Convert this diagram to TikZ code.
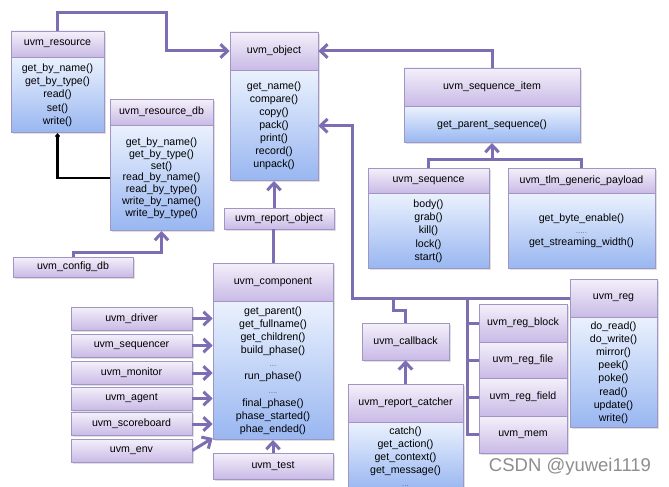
\documentclass[tikz,border=0pt]{standalone}
\usepackage{fontspec}
\setmainfont{Liberation Sans}
\usetikzlibrary{arrows.meta}
\usetikzlibrary{positioning}
\usetikzlibrary{shadows}
\definecolor{boxline}{HTML}{A195C6}
\definecolor{hdtop}{HTML}{F4F0FA}
\definecolor{hdbot}{HTML}{C9BAE6}
\definecolor{bdtop}{HTML}{EAF1FD}
\definecolor{bdbot}{HTML}{98B6F1}
\definecolor{linkcol}{HTML}{7D6DB3}
\definecolor{dotgray}{HTML}{707070}
\definecolor{wmgray}{HTML}{8E8E8E}
\newcommand{\clsfont}{\fontsize{10.6}{13.1}\selectfont}
\newcommand{\more}[1]{\textcolor{dotgray}{\footnotesize #1}}

\tikzset{
  cls/.style={draw=boxline, line width=0.7pt, inner sep=1pt, align=center, font=\clsfont,
    drop shadow={shadow xshift=1.6pt, shadow yshift=-1.6pt, opacity=0.25}},
  hd/.style={cls, top color=hdtop, bottom color=hdbot},
  bd/.style={cls, top color=bdtop, bottom color=bdbot},
  link/.style={draw=linkcol, line width=3pt},
  inh/.style={link, -{Straight Barb[length=7pt, width=13.5pt]}},
}

\begin{document}
\begin{tikzpicture}[x=1pt, y=-1pt]
\useasboundingbox[fill=white] (0,0) rectangle (669,487);

% resource side
\node[hd, minimum width=93, minimum height=26] (resh) at (57.5,44) {uvm\_resource};
\node[bd, minimum width=93, minimum height=75, below=0pt of resh] (resb)
  {get\_by\_name()\\get\_by\_type()\\read()\\set()\\write()};
\node[hd, minimum width=103, minimum height=26] (resdbh) at (161.5,112) {uvm\_resource\_db};
\node[bd, minimum width=103, minimum height=105, below=0pt of resdbh, font=\fontsize{10.6}{11.7}\selectfont] (resdbb)
  {get\_by\_name()\\get\_by\_type()\\set()\\read\_by\_name()\\read\_by\_type()\\write\_by\_name()\\write\_by\_type()};
\node[hd, minimum width=120, minimum height=20] (cfg) at (73,267) {uvm\_config\_db};

% object / sequence side
\node[hd, minimum width=88, minimum height=38] (objh) at (274,51) {uvm\_object};
\node[bd, minimum width=88, minimum height=110, below=0pt of objh] (objb)
  {get\_name()\\compare()\\copy()\\pack()\\print()\\record()\\unpack()};
\node[hd, minimum width=176, minimum height=38] (sih) at (492,87) {uvm\_sequence\_item};
\node[bd, minimum width=176, minimum height=36, below=0pt of sih] (sib) {get\_parent\_sequence()};
\node[hd, minimum width=121, minimum height=25] (seqh) at (428.5,180.5) {uvm\_sequence};
\node[bd, minimum width=121, minimum height=75, below=0pt of seqh] (seqb)
  {body()\\grab()\\kill()\\lock()\\start()};
\node[hd, minimum width=147, minimum height=25] (tlmh) at (581.5,180.5) {uvm\_tlm\_generic\_payload};
\node[bd, minimum width=147, minimum height=75, below=0pt of tlmh, font=\fontsize{10.6}{12}\selectfont] (tlmb)
  {get\_byte\_enable()\\\more{.....}\\get\_streaming\_width()};

% component side
\node[hd, minimum width=110, minimum height=21] (repobj) at (279,218.5) {uvm\_report\_object};
\node[hd, minimum width=120, minimum height=38] (comph) at (273,282) {uvm\_component};
\node[bd, minimum width=120, minimum height=138, below=0pt of comph] (compb)
  {get\_parent()\\get\_fullname()\\get\_children()\\build\_phase()\\\more{...}\\run\_phase()\\\more{....}\\final\_phase()\\phase\_started()\\phae\_ended()};
\node[hd, minimum width=121, minimum height=23] (drv) at (131.5,318.5) {uvm\_driver};
\node[hd, minimum width=121, minimum height=23] (sqr) at (131.5,345.5) {uvm\_sequencer};
\node[hd, minimum width=121, minimum height=23] (mon) at (131.5,373) {uvm\_monitor};
\node[hd, minimum width=121, minimum height=23] (agt) at (131.5,398.5) {uvm\_agent};
\node[hd, minimum width=121, minimum height=23] (scb) at (131.5,424) {uvm\_scoreboard};
\node[hd, minimum width=121, minimum height=23] (env) at (131.5,450.5) {uvm\_env};
\node[hd, minimum width=120, minimum height=26] (test) at (273,466) {uvm\_test};

% callback / register side
\node[hd, minimum width=87, minimum height=37] (cb) at (405.5,341.5) {uvm\_callback};
\node[hd, minimum width=115, minimum height=38] (cath) at (405.5,403) {uvm\_report\_catcher};
\node[bd, minimum width=115, minimum height=68, below=0pt of cath] (catb)
  {catch()\\get\_action()\\get\_context()\\get\_message()\\\more{...}};
\node[hd, minimum width=88, minimum height=38] (blk) at (523,323) {uvm\_reg\_block};
\node[hd, minimum width=88, minimum height=36] (rfile) at (523,360) {uvm\_reg\_file};
\node[hd, minimum width=88, minimum height=38] (rfield) at (523,397) {uvm\_reg\_field};
\node[hd, minimum width=88, minimum height=37] (mem) at (523,434.5) {uvm\_mem};
\node[hd, minimum width=87, minimum height=38] (regh) at (613.5,298) {uvm\_reg};
\node[bd, minimum width=87, minimum height=110, below=0pt of regh] (regb)
  {do\_read()\\do\_write()\\mirror()\\peek()\\poke()\\read()\\update()\\write()};

\coordinate (busL) at (352,298);
\coordinate (cbtap) at (393,298);
\coordinate (regtap) at (467,298);
\coordinate (seqjoin) at (492,160);

% connectors
\draw[inh] (resh.north) -- ++(0,-18) -- ++(109,0) |- (objh.west);
\draw[inh] (sih.north) |- (objh.east);
\draw[inh] (regh.west) -- (busL) |- (objb.east);
\draw[link] (cbtap) -- ++(0,12) -| (cb.north);
\draw[link] (regtap) |- (mem.west);
\foreach \n in {blk,rfile,rfield}
  \draw[link] (regtap |- \n.west) -- (\n.west);
\draw[link] (seqh.north) -- ++(0,-8) -| (tlmh.north);
\draw[inh] (seqjoin) -- (sib.south);
\draw[inh] (repobj.north -| objb.south) -- (objb.south);
\draw[link] (comph.north) -- (comph.north |- repobj.south);
\draw[inh] (cfg.north) -- ++(0,-4) -| (resdbb.south);
\draw[line width=2.4pt, {Diamond[length=6pt, width=5pt]}-] (resb.south) |- (resdbb.west);
\foreach \n in {drv,sqr,mon,agt,scb}
  \draw[inh] (\n.east) -- (\n.east -| compb.west);
\draw[inh] (env.east) -- ([yshift=2pt]compb.south west);
\draw[inh] (test.north) -- (compb.south);
\draw[inh] (cath.north) -- (cb.south);

\node[font=\fontsize{18.5}{20}\selectfont, text=wmgray, fill=white, fill opacity=0.8, text opacity=1,
  inner sep=2pt] (wm) at (570,467) {CSDN @yuwei1119};
\end{tikzpicture}
\end{document}
